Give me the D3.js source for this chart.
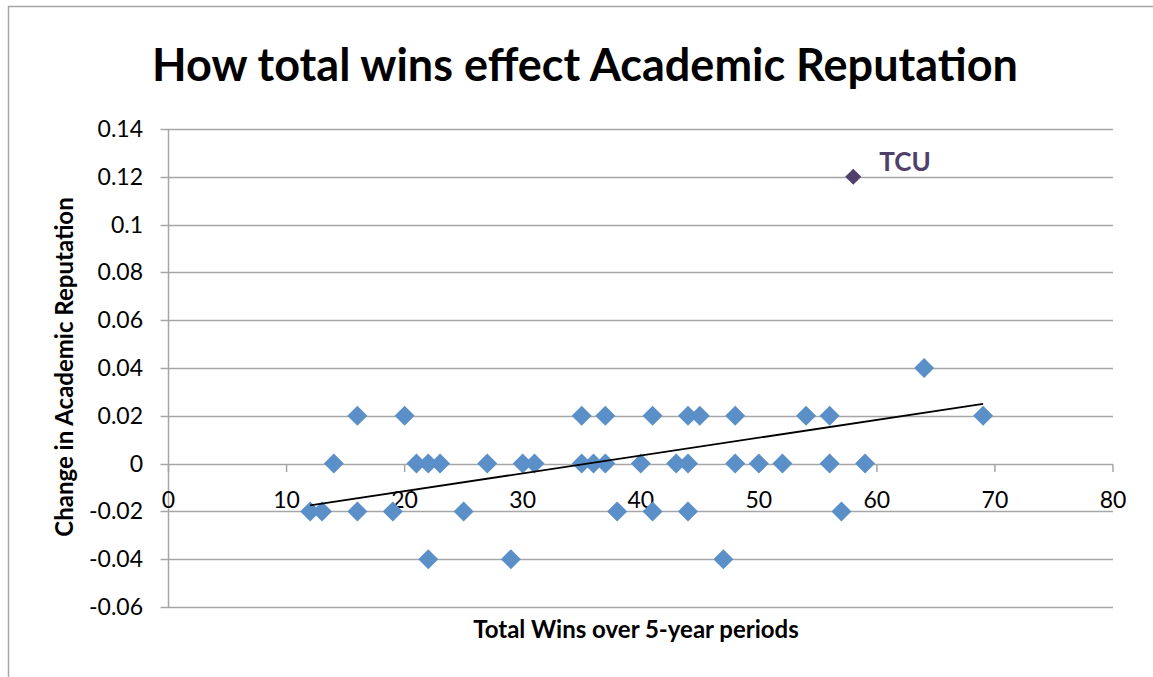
<!DOCTYPE html>
<meta charset="utf-8">
<style>
	body { margin: 0; background: #fff; }
	svg { font-family: Lato, "Open Sans", sans-serif; }
	.grid line { stroke: #a6a6a6; stroke-width: 1.5; }
	.tick-label { font-size: 23px; fill: #000; }
	.axis-title { font-size: 24px; font-weight: bold; fill: #000; }
</style>
<script src="https://d3js.org/d3.v7.min.js"></script>
<svg width="1153" height="677" class="chart"></svg>
<script>
	// scatter series (total wins, change in academic reputation)
	var wins = [16, 20, 35, 37, 41, 44, 45, 48, 54, 56, 69,
		64,
		14, 21, 22, 23, 27, 30, 31, 35, 36, 37, 40, 43, 44, 48, 50, 52, 56, 59,
		12, 13, 16, 19, 25, 38, 41, 44, 57,
		22, 29, 47];
	var change = [0.02, 0.02, 0.02, 0.02, 0.02, 0.02, 0.02, 0.02, 0.02, 0.02, 0.02,
		0.04,
		0, 0, 0, 0, 0, 0, 0, 0, 0, 0, 0, 0, 0, 0, 0, 0, 0, 0,
		-0.02, -0.02, -0.02, -0.02, -0.02, -0.02, -0.02, -0.02, -0.02,
		-0.04, -0.04, -0.04];

	var tcuWins = [58];
	var tcuChange = [0.12];
	var tcuLabel = ["TCU"];

	// linear trendline endpoints as drawn
	var trendWins = [12, 69];
	var trendChange = [-0.0175, 0.025];

	var xTicks = [0, 10, 20, 30, 40, 50, 60, 70, 80];
	var yTicks = [-0.06, -0.04, -0.02, 0, 0.02, 0.04, 0.06, 0.08, 0.1, 0.12, 0.14];

	var svg = d3.select(".chart");

	// outer chart frame
	svg.append("rect")
		.attr("x", 8.5).attr("y", 6.5)
		.attr("width", 1200).attr("height", 700)
		.attr("fill", "none")
		.attr("stroke", "#a6a6a6")
		.attr("stroke-width", 1.5);

	var x = d3.scaleLinear().domain([0, 80]).range([168.5, 1113]);
	var y = d3.scaleLinear().domain([-0.06, 0.14]).range([607, 129]);

	svg.append("text")
		.attr("x", 585)
		.attr("y", 81)
		.attr("text-anchor", "middle")
		.style("font-size", "45px")
		.style("font-weight", "bold")
		.text("How total wins effect Academic Reputation");

	// horizontal gridlines with left tick
	svg.append("g")
		.attr("class", "grid")
		.selectAll("line")
		.data(yTicks)
		.enter().append("line")
			.attr("x1", x(0) - 8)
			.attr("x2", x(80))
			.attr("y1", function(d) { return Math.round(y(d)) + 0.5; })
			.attr("y2", function(d) { return Math.round(y(d)) + 0.5; });

	// y axis line
	svg.append("line")
		.attr("x1", x(0)).attr("x2", x(0))
		.attr("y1", y(0.14)).attr("y2", y(-0.06))
		.attr("stroke", "#a6a6a6").attr("stroke-width", 1.5);

	// x tick marks hang below the zero line
	svg.append("g")
		.attr("class", "grid")
		.selectAll("line")
		.data(xTicks)
		.enter().append("line")
			.attr("x1", function(d) { return x(d); })
			.attr("x2", function(d) { return x(d); })
			.attr("y1", Math.round(y(0)) + 0.5)
			.attr("y2", Math.round(y(0)) + 8);

	svg.append("g")
		.selectAll("text")
		.data(yTicks)
		.enter().append("text")
			.attr("class", "tick-label")
			.attr("x", 143)
			.attr("y", function(d) { return y(d); })
			.attr("dy", "0.35em")
			.attr("text-anchor", "end")
			.text(function(d) { return d3.format("~g")(d).replace("\u2212", "-"); });

	svg.append("g")
		.selectAll("text")
		.data(xTicks)
		.enter().append("text")
			.attr("class", "tick-label")
			.attr("x", function(d) { return x(d); })
			.attr("y", 508)
			.attr("text-anchor", "middle")
			.text(function(d) { return d; });

	svg.append("text")
		.attr("class", "axis-title")
		.attr("transform", "translate(73,367) rotate(-90)")
		.attr("text-anchor", "middle")
		.text("Change in Academic Reputation");

	svg.append("text")
		.attr("class", "axis-title")
		.attr("x", 636)
		.attr("y", 638)
		.attr("text-anchor", "middle")
		.text("Total Wins over 5-year periods");

	var diamond = d3.symbol().type(d3.symbolSquare);

	svg.append("g")
		.selectAll("path")
		.data(d3.range(wins.length))
		.enter().append("path")
			.attr("d", diamond.size(200)())
			.attr("fill", "#5b8fc8")
			.attr("transform", function(i) {
				return "translate(" + x(wins[i]) + "," + y(change[i]) + ") rotate(45)";
			});

	var trend = d3.line()
		.x(function(i) { return x(trendWins[i]); })
		.y(function(i) { return y(trendChange[i]); });

	svg.append("path")
		.attr("d", trend(d3.range(trendWins.length)))
		.attr("fill", "none")
		.attr("stroke", "#000")
		.attr("stroke-width", 1.8);

	svg.append("g")
		.selectAll("path")
		.data(d3.range(tcuWins.length))
		.enter().append("path")
			.attr("d", diamond.size(130)())
			.attr("fill", "#4f406b")
			.attr("transform", function(i) {
				return "translate(" + x(tcuWins[i]) + "," + y(tcuChange[i]) + ") rotate(45)";
			});

	svg.append("g")
		.selectAll("text")
		.data(d3.range(tcuLabel.length))
		.enter().append("text")
			.attr("x", function(i) { return x(tcuWins[i]) + 26; })
			.attr("y", function(i) { return y(tcuChange[i]) - 6; })
			.attr("fill", "#4f406b")
			.style("font-size", "26px")
			.style("font-weight", "bold")
			.text(function(i) { return tcuLabel[i]; });
</script>
